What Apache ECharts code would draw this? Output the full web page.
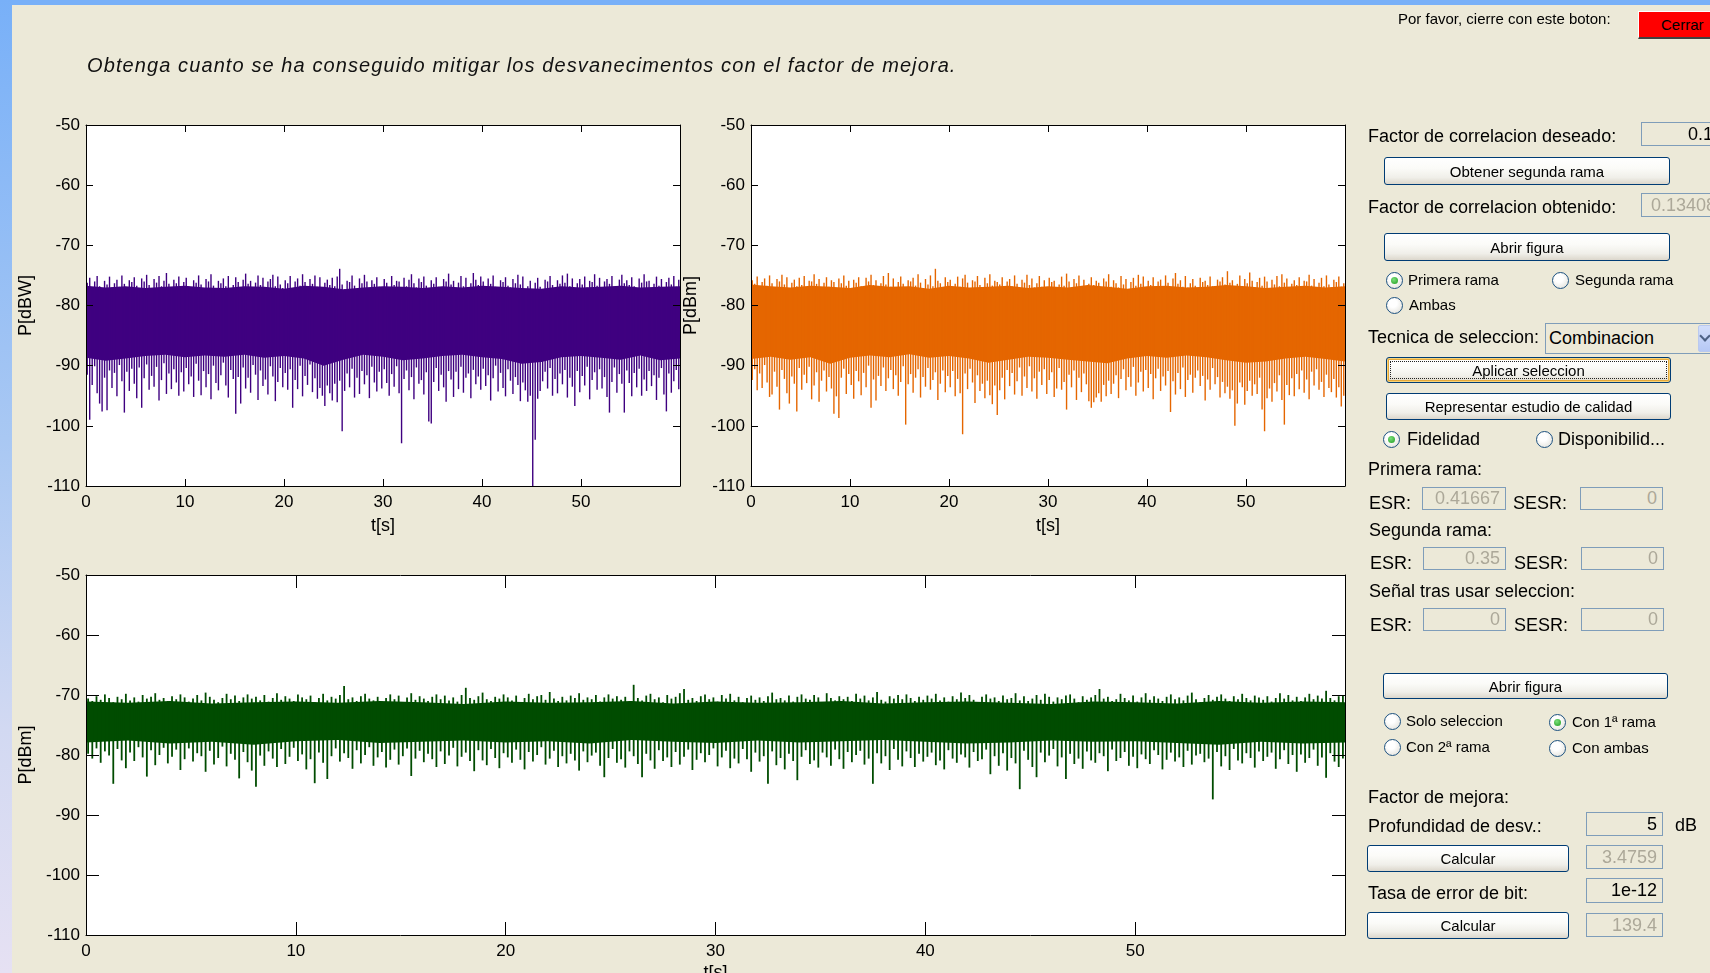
<!DOCTYPE html>
<html><head><meta charset="utf-8">
<script src="https://cdn.jsdelivr.net/npm/echarts@6/dist/echarts.min.js"></script>
<style>
html,body{margin:0;padding:0;width:1710px;height:973px;overflow:hidden;background:#ECE9D8;}
#chart{position:absolute;left:0;top:0;width:1710px;height:973px;}
.ui{position:absolute;white-space:nowrap;font-family:"Liberation Sans",Arial,sans-serif;color:#000;}
.lbl{font-size:18px;line-height:18px;}
.box{border:1px solid #7F9DB9;background:#ECE9D8;box-sizing:border-box;font-size:18px;text-align:right;padding-right:5px;overflow:hidden;}
.dis{color:#ACA899;}
.btn{border:1px solid #003C74;border-radius:3px;box-sizing:border-box;background:linear-gradient(#FFFFFF 0%,#FBFBF8 40%,#F0EFE9 75%,#DCD7CC 100%);font-size:15px;display:flex;align-items:center;justify-content:center;}
.btn.focus{box-shadow:inset 0 0 0 1px #F8D47A, inset 0 0 0 2px #E5A93A;}
.btn.focus::after{content:"";position:absolute;left:3px;top:3px;right:3px;bottom:3px;border:1px dotted #222;}
.rad{width:17px;height:17px;border-radius:50%;border:1px solid #1C5180;box-sizing:border-box;background:radial-gradient(circle at 40% 35%,#FFFFFF 30%,#DCDBD3 100%);}
.rad.on::after{content:"";position:absolute;left:4px;top:4px;width:7px;height:7px;border-radius:50%;background:radial-gradient(circle at 40% 35%,#7BE07B,#1E9A1E);}
</style></head>
<body>
<div id="chart"></div>
<div id="ui"></div>
<script>
// ---------- data ----------
const xTicks = [0, 10, 20, 30, 40, 50, 60];
const yTicks = [-110, -100, -90, -80, -70, -60, -50];
const plotNames = ['P[dBW]', 'P[dBm]', 'P[dBm]'];
const xName = 't[s]';

// dense core of each trace (every 2 s from 0 to 60)
const coreHi1 = [-76.7,-77.0,-76.8,-77.1,-76.9,-76.7,-77.0,-77.1,-76.8,-76.9,-77.2,-76.7,-76.9,-77.3,-77.0,-76.8,-76.9,-77.1,-76.8,-77.0,-76.7,-76.9,-77.1,-77.2,-76.8,-77.0,-76.9,-76.7,-77.0,-76.9,-76.8];
const coreLo1 = [-88.7,-89.2,-88.8,-88.4,-88.2,-88.6,-88.3,-88.5,-88.2,-88.7,-88.4,-88.8,-90.0,-89.0,-88.2,-88.5,-89.1,-88.8,-88.4,-88.2,-88.6,-88.9,-89.7,-89.4,-88.6,-88.4,-88.7,-89.0,-88.3,-89.1,-88.8];
const coreHi2 = [-76.5,-76.8,-77.0,-76.7,-76.9,-77.1,-76.6,-76.9,-76.8,-77.2,-76.7,-77.0,-76.9,-76.7,-77.1,-76.8,-77.0,-76.6,-76.9,-77.2,-76.8,-76.7,-77.0,-76.9,-76.6,-76.8,-77.1,-76.9,-76.7,-77.0,-76.8];
const coreLo2 = [-88.9,-88.5,-89.0,-88.6,-89.7,-88.7,-88.3,-88.6,-88.1,-88.7,-88.4,-88.8,-89.5,-89.0,-88.5,-88.7,-89.0,-89.3,-89.6,-88.8,-88.4,-88.7,-88.3,-88.6,-89.1,-89.5,-89.3,-88.8,-88.5,-88.9,-89.3];
const coreHi3 = [-71.1,-71.3,-71.0,-71.4,-71.2,-71.1,-71.3,-71.0,-71.2,-71.5,-71.1,-71.3,-71.2,-71.0,-71.4,-71.1,-71.3,-71.2,-71.0,-71.4,-71.2,-71.1,-71.3,-71.5,-71.1,-71.2,-71.4,-71.0,-71.3,-71.1,-71.2];
const coreLo3 = [-77.9,-77.6,-78.1,-77.8,-78.3,-77.7,-77.5,-78.0,-77.8,-77.6,-77.9,-77.7,-78.1,-77.5,-77.8,-78.0,-77.6,-77.9,-77.7,-77.5,-77.8,-78.1,-77.9,-77.6,-77.8,-77.7,-78.0,-78.3,-77.8,-78.1,-77.9];

// spike tips, first branch (240 samples over 60 s)
const hi1 = [
-76.2,-75.4,-77.1,-76.0,-75.1,-76.8,-77.3,-75.9,-76.5,-75.2,-77.0,-76.3,-75.7,-76.9,-75.0,-76.4,-77.5,-75.8,-76.1,-75.3,
-76.7,-77.2,-75.5,-76.0,-74.9,-76.6,-77.4,-75.6,-76.2,-75.1,-76.8,-75.9,-74.6,-76.4,-77.0,-75.7,-76.3,-75.2,-77.3,-76.1,
-75.4,-76.9,-77.6,-75.8,-76.2,-75.0,-76.5,-77.1,-75.6,-76.0,-74.8,-76.7,-77.2,-75.9,-76.3,-75.5,-76.8,-75.1,-77.4,-76.6,
-75.3,-76.1,-77.0,-75.7,-74.7,-76.4,-75.9,-77.3,-76.2,-75.0,-76.6,-75.4,-77.5,-76.0,-75.6,-74.9,-76.8,-75.2,-76.5,-77.1,
-75.8,-76.3,-75.1,-77.2,-76.0,-75.5,-76.7,-74.8,-76.1,-77.4,-75.6,-76.4,-75.0,-76.9,-75.3,-77.0,-76.2,-75.7,-76.6,-75.4,
-76.8,-75.2,-73.9,-76.5,-77.3,-75.9,-76.1,-75.0,-76.7,-77.6,-75.5,-76.3,-74.9,-76.0,-77.1,-75.8,-76.4,-75.3,-76.9,-77.5,
-75.6,-76.2,-77.8,-75.1,-76.6,-75.9,-76.0,-77.2,-75.4,-76.8,-75.7,-74.8,-76.3,-77.0,-75.5,-76.1,-75.2,-76.7,-77.4,-75.8,
-76.4,-75.3,-76.9,-77.1,-75.6,-76.0,-74.7,-76.5,-75.9,-77.3,-76.2,-75.1,-76.8,-75.4,-77.0,-76.3,-74.6,-75.7,-76.6,-75.2,
-76.0,-77.2,-75.5,-76.4,-75.0,-76.9,-77.5,-75.8,-76.1,-75.3,-76.7,-77.0,-75.6,-76.3,-74.9,-76.5,-75.2,-77.4,-76.8,-75.9,
-77.6,-76.2,-75.4,-76.9,-77.3,-75.7,-76.0,-75.1,-76.6,-77.8,-75.8,-76.4,-75.0,-76.2,-74.7,-76.8,-75.5,-77.1,-76.3,-75.6,
-76.5,-75.2,-77.0,-75.9,-76.1,-74.8,-76.7,-75.4,-77.2,-76.0,-75.6,-76.4,-75.1,-76.9,-77.5,-75.7,-74.9,-76.3,-75.8,-76.6,
-75.3,-76.8,-77.1,-75.5,-76.2,-74.8,-76.0,-75.9,-77.3,-76.4,-75.2,-76.7,-75.6,-77.0,-76.1,-75.4,-76.5,-75.1,-76.9,-75.7];
const lo1 = [
-91.5,-99.0,-93.2,-90.1,-94.6,-96.3,-97.6,-92.0,-97.4,-90.8,-93.7,-91.2,-95.1,-89.9,-92.6,-97.8,-91.0,-94.2,-90.5,-93.0,
-95.4,-90.3,-97.0,-92.1,-89.8,-94.0,-91.7,-93.5,-90.2,-95.8,-92.4,-89.6,-94.7,-91.3,-93.9,-90.6,-92.8,-95.0,-91.1,-94.3,
-90.4,-93.1,-91.8,-95.2,-89.7,-92.5,-94.9,-90.9,-93.6,-91.4,-95.6,-90.0,-92.9,-94.1,-91.6,-89.5,-93.3,-95.3,-90.7,-92.2,
-98.0,-91.9,-96.3,-90.3,-93.8,-92.0,-94.5,-89.9,-91.5,-95.7,-90.8,-93.4,-92.3,-94.8,-90.1,-91.8,-95.9,-92.7,-90.4,-93.6,
-91.2,-94.0,-90.6,-97.0,-92.4,-93.9,-90.0,-95.1,-91.7,-93.2,-89.8,-94.4,-92.1,-95.5,-93.7,-95.0,-96.7,-93.3,-94.6,-95.8,
-93.0,-96.1,-92.5,-100.9,-94.2,-91.3,-93.6,-90.5,-95.3,-92.0,-94.7,-90.9,-93.1,-91.6,-95.4,-90.2,-92.8,-94.3,-91.0,-93.8,
-90.6,-92.9,-95.0,-91.4,-93.5,-90.1,-94.6,-102.9,-92.2,-90.8,-94.1,-91.9,-95.6,-90.3,-93.0,-92.4,-94.8,-91.1,-99.3,-99.6,
-92.7,-90.4,-94.2,-91.5,-93.6,-96.0,-90.9,-92.3,-95.2,-91.0,-93.9,-90.2,-94.5,-92.0,-91.3,-95.4,-90.7,-93.1,-91.8,-94.0,
-90.5,-93.4,-91.6,-95.8,-92.1,-90.0,-94.3,-91.2,-93.7,-95.1,-90.6,-92.5,-94.7,-91.9,-93.2,-95.9,-92.8,-94.1,-96.0,-95.0,
-110.0,-102.3,-95.5,-94.2,-92.6,-91.0,-93.8,-90.4,-95.0,-92.2,-94.6,-91.3,-93.1,-90.7,-95.3,-92.0,-93.5,-96.7,-90.9,-94.4,
-91.7,-93.3,-90.2,-95.6,-92.4,-91.1,-94.0,-90.6,-93.8,-91.9,-95.2,-97.8,-92.7,-90.3,-94.5,-91.4,-93.0,-97.8,-90.8,-92.9,
-95.1,-91.2,-93.6,-90.5,-95.0,-92.3,-94.2,-90.9,-93.4,-91.6,-95.7,-92.0,-90.4,-94.8,-97.6,-91.3,-94.5,-92.6,-90.7,-93.9];

// spike tips, second branch (240 samples)
const hi2 = [
-75.8,-76.4,-75.2,-77.0,-76.1,-75.5,-76.7,-75.0,-76.3,-77.2,-75.6,-76.0,-74.9,-76.5,-75.3,-77.1,-76.2,-75.7,-76.8,-75.4,
-76.6,-75.1,-77.3,-75.9,-76.0,-74.8,-76.4,-75.6,-77.0,-76.2,-75.3,-76.9,-75.8,-76.1,-77.4,-75.5,-76.3,-75.0,-76.7,-75.9,
-77.1,-75.7,-76.2,-75.3,-76.8,-77.5,-75.4,-76.0,-74.9,-76.6,-75.8,-77.2,-76.3,-75.1,-76.5,-74.6,-76.9,-75.5,-77.0,-76.1,
-75.2,-76.4,-77.3,-75.8,-76.0,-75.4,-76.7,-74.8,-76.2,-77.1,-75.6,-76.5,-75.0,-76.8,-73.9,-75.9,-76.3,-77.4,-75.3,-76.1,
-75.7,-77.0,-76.4,-75.2,-76.9,-75.5,-74.9,-76.2,-77.3,-75.8,-76.0,-75.1,-76.6,-77.5,-75.4,-76.3,-74.8,-76.7,-75.9,-76.1,
-76.5,-75.3,-77.2,-76.0,-75.6,-76.8,-75.0,-76.4,-77.6,-75.7,-76.2,-74.9,-76.6,-75.5,-77.0,-76.3,-75.1,-76.9,-75.8,-77.3,
-75.4,-76.1,-75.9,-77.1,-76.5,-75.2,-76.7,-74.7,-76.0,-77.4,-75.6,-76.3,-75.0,-76.8,-75.7,-77.2,-76.4,-75.3,-76.6,-75.9,
-76.2,-77.5,-75.5,-76.0,-74.8,-76.9,-75.8,-76.3,-77.0,-75.1,-76.5,-75.6,-77.3,-76.1,-75.4,-76.7,-74.9,-76.4,-75.2,-77.1,
-75.9,-76.6,-75.3,-77.4,-76.0,-75.7,-76.8,-75.0,-76.2,-77.2,-75.5,-74.6,-76.4,-75.8,-76.9,-75.1,-77.0,-76.3,-75.6,-76.7,
-77.3,-75.4,-76.1,-75.9,-76.6,-75.2,-76.8,-77.5,-75.7,-76.0,-75.3,-76.5,-74.3,-76.2,-75.8,-77.1,-76.4,-75.0,-76.9,-75.6,
-76.3,-74.5,-75.9,-77.0,-76.1,-75.4,-76.7,-75.2,-76.0,-77.4,-75.7,-76.5,-75.1,-76.8,-74.8,-76.2,-75.5,-77.2,-76.4,-75.8,
-76.6,-75.3,-77.1,-75.9,-76.0,-74.9,-76.7,-75.6,-77.3,-76.2,-75.4,-76.8,-75.0,-76.5,-77.0,-75.7,-76.1,-75.2,-76.9,-76.3];
const lo2 = [
-92.4,-90.6,-94.1,-91.3,-93.7,-89.9,-92.8,-95.2,-94.8,-91.0,-93.5,-97.3,-90.7,-92.2,-94.6,-96.3,-91.8,-93.0,-97.6,-90.4,
-94.0,-91.5,-92.9,-90.2,-95.6,-93.3,-91.1,-96.0,-92.5,-90.8,-94.3,-91.9,-93.8,-98.0,-95.1,-98.7,-92.0,-90.5,-94.7,-91.4,
-93.2,-95.5,-90.9,-92.6,-94.9,-91.2,-93.6,-90.0,-97.0,-92.3,-95.8,-91.7,-93.4,-90.3,-94.2,-92.1,-90.7,-93.9,-91.6,-95.0,
-92.7,-90.1,-99.8,-93.1,-91.4,-94.5,-92.0,-90.6,-95.3,-91.9,-93.5,-90.4,-94.0,-92.4,-91.1,-95.7,-93.0,-90.8,-94.4,-91.7,
-93.6,-90.9,-95.1,-92.2,-94.6,-101.4,-91.3,-93.9,-90.5,-92.8,-96.2,-91.6,-94.2,-93.0,-95.4,-92.5,-94.9,-96.4,-93.3,-98.2,
-94.1,-92.0,-95.6,-90.7,-93.4,-91.2,-94.8,-92.6,-90.3,-95.0,-91.8,-93.7,-90.1,-94.3,-92.1,-95.5,-91.0,-93.2,-90.6,-94.7,
-92.4,-91.1,-95.2,-93.8,-90.4,-94.0,-92.7,-97.3,-91.5,-93.6,-90.8,-95.7,-92.0,-94.4,-91.3,-93.1,-95.9,-97.0,-96.1,-95.3,
-94.6,-96.0,-93.2,-95.1,-92.5,-94.7,-93.0,-91.6,-95.4,-92.2,-90.6,-94.1,-91.9,-93.5,-90.2,-95.0,-92.8,-91.0,-94.3,-90.7,
-93.7,-91.4,-95.6,-92.1,-90.5,-94.2,-91.8,-93.3,-90.9,-97.7,-92.6,-94.8,-91.2,-93.9,-90.3,-95.2,-92.4,-91.5,-94.5,-92.0,
-90.8,-93.4,-91.7,-95.8,-92.3,-94.0,-90.4,-93.1,-91.9,-95.3,-92.7,-94.6,-93.5,-95.5,-94.1,-100.0,-96.3,-92.8,-93.6,-96.5,
-94.2,-92.5,-95.0,-93.1,-94.7,-92.0,-97.3,-100.9,-95.4,-93.8,-96.0,-92.9,-94.3,-91.6,-95.7,-99.8,-93.2,-94.9,-92.1,-95.1,
-91.4,-93.9,-90.8,-94.5,-92.3,-95.6,-91.0,-93.3,-90.6,-94.0,-92.7,-95.2,-91.5,-93.7,-94.4,-92.2,-95.3,-93.6,-96.8,-95.0];

// spike tips, signal after selection (300 samples)
const hi3 = [
-70.6,-71.0,-70.2,-70.8,-69.9,-70.5,-71.2,-70.3,-70.7,-69.8,-70.9,-70.4,-71.1,-70.0,-70.6,-70.3,-69.7,-70.8,-70.5,-71.0,
-70.2,-70.7,-69.9,-70.4,-71.1,-70.6,-70.0,-70.9,-69.6,-70.3,-70.8,-71.2,-70.5,-69.8,-70.7,-70.1,-71.0,-70.4,-69.9,-70.6,
-70.3,-70.9,-70.0,-71.1,-70.5,-69.7,-70.8,-70.2,-70.6,-71.0,-69.9,-70.4,-70.7,-70.1,-71.2,-70.5,-69.8,-70.9,-70.3,-70.6,
-70.0,-68.5,-70.7,-70.4,-71.0,-70.2,-69.8,-70.6,-70.9,-70.3,-71.1,-70.5,-69.9,-70.7,-70.1,-71.2,-70.4,-69.7,-70.8,-70.2,
-70.6,-71.0,-70.3,-69.9,-70.7,-70.1,-70.9,-70.4,-71.1,-70.0,-68.8,-70.5,-70.8,-70.2,-69.6,-70.7,-71.0,-70.3,-70.6,-69.9,
-70.4,-70.9,-70.1,-71.2,-70.5,-69.8,-70.7,-70.2,-70.0,-70.8,-69.5,-70.6,-71.0,-70.3,-70.9,-70.1,-70.5,-69.7,-70.8,-70.4,
-70.7,-70.0,-71.1,-70.4,-69.9,-70.6,-70.2,-70.8,-70.3,-71.0,-68.3,-70.5,-70.9,-70.1,-69.8,-70.7,-70.4,-71.2,-70.0,-70.6,
-70.3,-69.7,-69.0,-70.8,-70.5,-71.0,-70.2,-69.9,-70.7,-70.4,-71.1,-70.0,-70.6,-69.8,-70.9,-70.3,-71.2,-70.5,-70.1,-70.8,
-70.4,-71.0,-70.2,-69.6,-70.7,-70.5,-70.9,-70.1,-71.1,-70.3,-69.9,-70.6,-70.8,-70.0,-70.4,-71.2,-69.7,-70.5,-70.9,-70.2,
-70.7,-70.3,-71.0,-69.8,-70.6,-70.1,-70.9,-70.4,-69.5,-70.8,-71.1,-70.2,-70.6,-70.0,-70.7,-69.9,-70.5,-71.0,-70.3,-70.8,
-70.1,-70.6,-69.8,-70.9,-70.4,-71.1,-70.2,-70.7,-69.6,-70.5,-70.0,-70.8,-71.2,-70.3,-69.9,-70.6,-70.4,-71.0,-70.1,-70.7,
-70.5,-69.7,-70.9,-70.2,-71.0,-70.6,-70.0,-70.8,-69.8,-70.3,-71.1,-70.4,-70.7,-70.1,-69.9,-70.6,-71.2,-70.2,-70.8,-70.4,
-70.0,-69.0,-70.6,-70.3,-71.0,-70.7,-69.8,-70.5,-70.9,-70.1,-71.1,-70.4,-69.7,-70.8,-70.2,-70.6,-71.0,-70.3,-69.9,-70.7,
-70.4,-70.9,-70.1,-69.6,-70.7,-71.2,-70.5,-70.0,-70.8,-70.3,-69.9,-70.6,-71.0,-70.2,-70.7,-69.8,-70.5,-70.9,-70.1,-70.4,
-70.8,-70.2,-71.1,-70.5,-69.7,-70.6,-70.0,-70.9,-70.3,-71.0,-70.4,-69.8,-70.7,-70.1,-70.6,-69.3,-70.5,-70.9,-70.2,-70.0];
const lo3 = [
-79.8,-80.6,-78.9,-81.3,-79.4,-80.1,-84.8,-79.0,-80.9,-82.2,-79.6,-81.0,-78.7,-80.4,-83.6,-79.2,-81.7,-80.0,-78.8,-81.4,
-80.3,-79.1,-82.5,-80.7,-78.9,-81.1,-79.7,-80.2,-82.8,-79.3,-81.6,-80.5,-78.6,-81.9,-79.8,-80.8,-83.9,-79.5,-81.2,-82.6,
-85.3,-80.1,-81.8,-79.4,-80.6,-82.0,-79.0,-81.5,-80.3,-78.8,-81.0,-79.9,-82.4,-80.7,-84.7,-79.6,-81.3,-84.0,-80.2,-78.9,
-81.1,-79.7,-80.5,-82.3,-79.2,-81.4,-80.0,-78.7,-81.8,-80.4,-79.5,-82.1,-80.8,-79.1,-81.6,-80.2,-78.9,-83.5,-80.6,-79.3,
-81.2,-79.8,-80.7,-82.0,-79.4,-81.5,-80.1,-78.8,-81.9,-80.3,-79.6,-81.0,-82.7,-79.2,-80.9,-81.7,-79.0,-80.5,-82.2,-79.7,
-80.4,-81.3,-79.1,-80.8,-82.4,-79.5,-81.1,-80.0,-78.7,-81.6,-80.6,-79.3,-82.0,-80.2,-81.4,-79.8,-80.9,-82.6,-79.4,-81.2,
-80.1,-79.6,-81.8,-83.7,-80.5,-79.0,-81.3,-80.7,-82.1,-79.4,-80.2,-81.5,-83.7,-79.8,-80.9,-82.3,-79.2,-81.0,-80.4,-82.0,
-79.5,-81.6,-80.3,-79.1,-82.5,-80.8,-79.7,-81.2,-80.0,-78.9,-81.9,-80.4,-79.3,-82.2,-80.6,-81.4,-79.0,-80.7,-82.8,-79.6,
-81.1,-80.2,-84.8,-79.4,-81.7,-80.5,-82.4,-79.8,-81.0,-84.2,-80.3,-79.2,-81.5,-80.9,-82.1,-79.6,-80.4,-81.8,-79.1,-80.7,
-82.3,-79.5,-81.2,-80.0,-79.3,-81.6,-80.6,-84.8,-79.7,-81.4,-80.2,-82.5,-79.0,-80.8,-81.9,-79.4,-80.5,-82.0,-79.8,-81.1,
-80.3,-79.6,-81.7,-80.9,-82.4,-79.2,-80.6,-81.3,-79.9,-80.4,-82.1,-79.5,-81.0,-80.7,-79.1,-83.2,-80.2,-81.8,-79.7,-82.6,
-80.5,-81.4,-85.7,-79.3,-80.8,-82.0,-83.7,-79.6,-81.2,-80.1,-79.0,-81.9,-80.4,-84.0,-79.8,-81.5,-80.6,-82.3,-79.4,-80.9,
-81.3,-79.7,-80.2,-82.7,-79.1,-81.0,-80.5,-79.5,-81.8,-80.3,-82.2,-79.9,-80.7,-81.5,-79.2,-80.0,-82.4,-80.8,-79.6,-81.1,
-80.4,-82.0,-79.3,-81.6,-80.1,-79.8,-81.2,-80.6,-87.4,-79.5,-81.9,-80.2,-82.5,-79.0,-80.9,-81.4,-79.7,-80.5,-82.1,-79.4,
-81.0,-80.3,-79.6,-82.3,-80.7,-79.2,-81.5,-80.0,-82.8,-79.9,-81.3,-80.5,-79.1,-81.8,-80.4,-83.8,-79.7,-81.1,-82.0,-80.6];

// ---------- chart ----------
const FONT = '"Liberation Sans", Arial, sans-serif';
const COLORS = ['#3F0080', '#E56600', '#004C00'];
const SPIKE_W = [1.4, 1.4, 1.8];
const grids = [
  {left: 86, top: 125, width: 594, height: 361},
  {left: 751, top: 125, width: 594, height: 361},
  {left: 86, top: 575, width: 1259, height: 360}
];
const tickLen = [7, 7, 13];
const T0 = xTicks[0], T1 = xTicks[xTicks.length - 1];
const Y0 = yTicks[0], Y1 = yTicks[yTicks.length - 1];
const lineSt = {color: '#000', width: 1};
const labSt = {color: '#000', fontFamily: FONT, fontSize: 17};
const nameSt = {color: '#000', fontFamily: FONT, fontSize: 18};

const xAxis = [], yAxis = [];
grids.forEach((g, i) => {
  xAxis.push({type: 'value', gridIndex: i, min: T0, max: T1, interval: 10, position: 'bottom', z: 10,
    axisLine: {show: true, onZero: false, lineStyle: lineSt},
    axisTick: {show: true, inside: true, length: tickLen[i], lineStyle: lineSt},
    axisLabel: Object.assign({}, labSt, {margin: 8, formatter: v => (v >= T1 ? '' : String(v))}),
    splitLine: {show: false},
    name: xName, nameLocation: 'middle', nameGap: i === 2 ? 29 : 31, nameTextStyle: nameSt});
  xAxis.push({type: 'value', gridIndex: i, min: T0, max: T1, interval: 10, position: 'top', z: 10,
    axisLine: {show: true, onZero: false, lineStyle: lineSt},
    axisTick: {show: true, inside: true, length: tickLen[i], lineStyle: lineSt},
    axisLabel: {show: false}, splitLine: {show: false}});
  yAxis.push({type: 'value', gridIndex: i, min: Y0, max: Y1, interval: 10, position: 'left', z: 10,
    axisLine: {show: true, onZero: false, lineStyle: lineSt},
    axisTick: {show: true, inside: true, length: tickLen[i], lineStyle: lineSt},
    axisLabel: Object.assign({}, labSt, {margin: 6}),
    splitLine: {show: false},
    name: plotNames[i], nameLocation: 'middle', nameGap: 51, nameTextStyle: nameSt});
  yAxis.push({type: 'value', gridIndex: i, min: Y0, max: Y1, interval: 10, position: 'right', z: 10,
    axisLine: {show: true, onZero: false, lineStyle: lineSt},
    axisTick: {show: true, inside: true, length: tickLen[i], lineStyle: lineSt},
    axisLabel: {show: false}, splitLine: {show: false}});
});

function areaSeries(g, arr, color, z) {
  const step = (T1 - T0) / (arr.length - 1);
  return {type: 'line', xAxisIndex: 2 * g, yAxisIndex: 2 * g, silent: true, z: z, animation: false,
    data: arr.map((v, i) => [T0 + i * step, v]), symbol: 'none', showSymbol: false,
    lineStyle: {width: 0, opacity: 0}, areaStyle: {color: color, opacity: 1, origin: 'start'}};
}
function spikeSeries(g, lo, hi, color, w) {
  const n = lo.length, dt = (T1 - T0) / n;
  return {type: 'custom', xAxisIndex: 2 * g, yAxisIndex: 2 * g, silent: true, z: 4, animation: false,
    data: lo.map((v, i) => [T0 + (i + 0.5) * dt, v, hi[i]]),
    renderItem: function (params, api) {
      const a = api.coord([api.value(0), api.value(1)]);
      const b = api.coord([api.value(0), api.value(2)]);
      const x = a[0];
      return {type: 'line', shape: {x1: x, y1: a[1], x2: x, y2: b[1]}, style: {stroke: color, lineWidth: w}};
    }};
}
const cores = [[coreHi1, coreLo1], [coreHi2, coreLo2], [coreHi3, coreLo3]];
const spikes = [[lo1, hi1], [lo2, hi2], [lo3, hi3]];
const series = [];
[0, 1, 2].forEach(g => {
  series.push(areaSeries(g, cores[g][0], COLORS[g], 2));
  series.push(areaSeries(g, cores[g][1], '#FFFFFF', 3));
  series.push(spikeSeries(g, spikes[g][0], spikes[g][1], COLORS[g], SPIKE_W[g]));
});

const chart = echarts.init(document.getElementById('chart'), null, {renderer: 'canvas', width: 1710, height: 973});
chart.setOption({
  animation: false,
  backgroundColor: 'transparent',
  grid: grids.map(g => Object.assign({show: true, backgroundColor: '#FFFFFF', borderWidth: 0, z: 0, containLabel: false, outerBoundsMode: 'none'}, g)),
  xAxis: xAxis, yAxis: yAxis, series: series
});

// ---------- GUI panel ----------
const ui = document.getElementById('ui');
function el(cls, style, text) {
  const d = document.createElement('div');
  d.className = 'ui ' + cls;
  d.setAttribute('style', style);
  if (text !== undefined) d.textContent = text;
  ui.appendChild(d);
  return d;
}
// window frame strips
el('', 'left:0;top:0;width:1710px;height:5px;background:#78B0F8;');
el('', 'left:0;top:0;width:12px;height:973px;background:linear-gradient(#78B0F8 0%,#A9C8F3 45%,#D2D9F2 75%,#E6E1F3 100%);');
// title
el('', 'left:87px;top:55px;font-size:20px;line-height:20px;font-style:italic;letter-spacing:1.1px;color:#111;',
   'Obtenga cuanto se ha conseguido mitigar los desvanecimentos con el factor de mejora.');
el('', 'left:1398px;top:11px;font-size:15px;line-height:15px;', 'Por favor, cierre con este boton:');
el('', 'left:1638px;top:11px;width:80px;height:28px;box-sizing:border-box;background:#FF0000;border-top:1px solid #FFFFFF;border-left:1px solid #FFFFFF;border-right:1px solid #404040;border-bottom:2px solid #404040;font-size:15px;line-height:25px;padding-left:22px;', 'Cerrar');

const labels = [
  [1368, 127, 'Factor de correlacion deseado:'],
  [1368, 198, 'Factor de correlacion obtenido:'],
  [1368, 328, 'Tecnica de seleccion:'],
  [1368, 460, 'Primera rama:'],
  [1369, 494, 'ESR:'], [1513, 494, 'SESR:'],
  [1369, 521, 'Segunda rama:'],
  [1370, 554, 'ESR:'], [1514, 554, 'SESR:'],
  [1369, 582, 'Señal tras usar seleccion:'],
  [1370, 616, 'ESR:'], [1514, 616, 'SESR:'],
  [1368, 788, 'Factor de mejora:'],
  [1368, 817, 'Profundidad de desv.:'],
  [1675, 816, 'dB'],
  [1368, 884, 'Tasa de error de bit:']
];
labels.forEach(l => el('lbl', `left:${l[0]}px;top:${l[1]}px;`, l[2]));

const boxes = [
  [1641, 122, 90, 24, '0.1', false, 'text-align:left;padding-left:46px;'],
  [1641, 193, 90, 24, '0.13408', true, 'text-align:left;padding-left:9px;'],
  [1422, 487, 84, 23, '0.41667', true, ''],
  [1580, 487, 83, 23, '0', true, ''],
  [1423, 547, 83, 23, '0.35', true, ''],
  [1581, 547, 83, 23, '0', true, ''],
  [1423, 608, 83, 23, '0', true, ''],
  [1581, 608, 83, 23, '0', true, ''],
  [1586, 812, 77, 24, '5', false, ''],
  [1586, 845, 77, 24, '3.4759', true, ''],
  [1586, 878, 77, 25, '1e-12', false, ''],
  [1586, 913, 77, 24, '139.4', true, '']
];
boxes.forEach(b => el('box' + (b[5] ? ' dis' : ''), `left:${b[0]}px;top:${b[1]}px;width:${b[2]}px;height:${b[3]}px;line-height:${b[3] - 2}px;${b[6]}`, b[4]));

const buttons = [
  [1384, 157, 286, 28, 'Obtener segunda rama', ''],
  [1384, 233, 286, 28, 'Abrir figura', ''],
  [1386, 357, 285, 26, 'Aplicar seleccion', ' focus'],
  [1386, 393, 285, 27, 'Representar estudio de calidad', ''],
  [1383, 673, 285, 26, 'Abrir figura', ''],
  [1367, 845, 202, 27, 'Calcular', ''],
  [1367, 912, 202, 27, 'Calcular', '']
];
buttons.forEach(b => el('btn' + b[5], `left:${b[0]}px;top:${b[1]}px;width:${b[2]}px;height:${b[3]}px;`, b[4]));

const radios = [
  [1394, 280, 'Primera rama', 1408, true, 15],
  [1560, 280, 'Segunda rama', 1575, false, 15],
  [1394, 305, 'Ambas', 1409, false, 15],
  [1391, 439, 'Fidelidad', 1407, true, 18],
  [1544, 439, 'Disponibilid...', 1558, false, 18],
  [1392, 721, 'Solo seleccion', 1406, false, 15],
  [1557, 722, 'Con 1ª rama', 1572, true, 15],
  [1392, 747, 'Con 2ª rama', 1406, false, 15],
  [1557, 748, 'Con ambas', 1572, false, 15]
];
radios.forEach(r => {
  el('rad' + (r[4] ? ' on' : ''), `left:${r[0] - 8.5}px;top:${r[1] - 8.5}px;`);
  el('', `left:${r[3]}px;top:${r[1] - 10}px;font-size:${r[5]}px;line-height:20px;`, r[2]);
});

// popup menu
el('', 'left:1545px;top:323px;width:200px;height:31px;box-sizing:border-box;border:1px solid #7F9DB9;background:#ECE9D8;font-size:18px;line-height:29px;padding-left:3px;', 'Combinacion');
el('', 'left:1698px;top:325px;width:20px;height:27px;box-sizing:border-box;border:1px solid #B9C9EF;border-radius:2px;background:linear-gradient(#D2DEFB,#B6C8F5);');
el('', 'left:1701px;top:332px;width:6px;height:6px;border-right:2px solid #4D6185;border-bottom:2px solid #4D6185;transform:rotate(45deg);');
</script>
</body></html>
